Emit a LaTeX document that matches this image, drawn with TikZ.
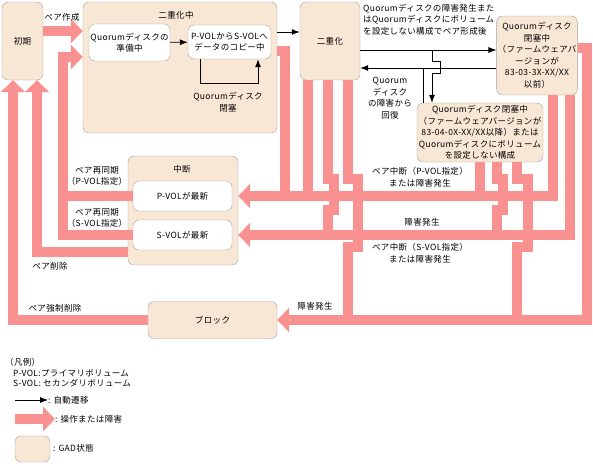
\documentclass[tikz,border=0pt]{standalone}
\usepackage{fontspec}
\setmainfont[LetterSpace=4]{Noto Sans CJK JP}
\usetikzlibrary{arrows.meta}
\definecolor{stbeige}{RGB}{249,231,214}
\definecolor{stedge}{RGB}{165,160,155}
\definecolor{oppink}{RGB}{250,145,145}

\begin{document}
\begin{tikzpicture}[x=1pt, y=-1pt,
  state/.style={rectangle, draw=stedge, rounded corners=6pt, fill=stbeige,
                align=center, inner sep=1pt, font=\fontsize{8.5}{11.5}\selectfont},
  substate/.style={state, fill=white},
  lbl/.style={align=center, inner sep=0pt, font=\fontsize{8.5}{11.5}\selectfont},
  arr/.style={-{Latex[length=8pt,width=6pt]}, line width=0.8pt, black},
  op/.style={draw=oppink, line width=10pt},
  optip/.style={op, -{Triangle[length=12pt,width=24pt]}}
]
\useasboundingbox (0,0) rectangle (593,463);

% states
\node[state, minimum width=41pt, minimum height=78pt] (shoki) at (22.5,41) {初期};
\node[state, minimum width=194pt, minimum height=131pt] (dj) at (180,67.5) {};
\node[lbl] (djt) at (176,15) {二重化中};
\node[substate, minimum width=81pt, minimum height=37pt] (prep) at (129.5,42.5) {Quorumディスクの\\準備中};
\node[substate, minimum width=83pt, minimum height=34pt] (copy) at (229.5,42) {P-VOLからS-VOLへ\\データのコピー中};
\node[state, minimum width=60pt, minimum height=78pt] (nj) at (330,41) {二重化};
\node[state, minimum width=80pt, minimum height=79pt] (q1) at (537,55.5)
  {Quorumディスク\\閉塞中\\（ファームウェアバ\\ージョンが\\83-03-3X-XX/XX\\以前）};
\node[state, minimum width=126pt, minimum height=59pt] (q2) at (480,132.5)
  {Quorumディスク閉塞中\\（ファームウェアバージョンが\\83-04-0X-XX/XX以降）または\\Quorumディスクにボリューム\\を設定しない構成};
\node[state, minimum width=110pt, minimum height=109pt] (chudan) at (183,210.5) {};
\node[lbl] (chudant) at (182,169) {中断};
\node[substate, minimum width=99pt, minimum height=30pt] (pvol) at (182.5,196) {P-VOLが最新};
\node[substate, minimum width=99pt, minimum height=30pt] (svol) at (182.5,235) {S-VOLが最新};
\node[state, minimum width=129pt, minimum height=37pt] (block) at (212.5,320) {ブロック};

% operations / failures
\draw[optip] (shoki.east |- 0,31) -- (dj.west |- 0,31);
\draw[optip] (svol.west) -- (63,235) -- (63,57) -- (dj.west |- 0,57);
\draw[op] (pvol.west) -- (63,196);
\draw[optip] (chudan.west |- 0,252) -- (37,252) -- (shoki.south -| 37,0);
\draw[optip] (block.west) -- (13,320) -- (shoki.south -| 13,0);
\draw[op] (dj.east |- 0,51) -- (285,51) -- (285,196);
\draw[optip] (q1.south -| 553,0) -- (553,196) -- (chudan.east |- pvol);
\draw[optip] (q1.south -| 570,0) -- (570,235) -- (chudan.east |- svol);
\draw[optip] (q1.east |- 0,48) -- (587,48) -- (587,320) -- (block.east);
\draw[op] (nj.south -| 308,0) -- (308,196);
\draw[op] (nj.south -| 328,0) -- (328,179) -- (334,179) -- (334,210) -- (328,210) -- (328,235);
\draw[op] (nj.south -| 348,0) -- (348,179) -- (358,179) -- (358,247) -- (348,247) -- (348,320);
\draw[op] (q2.south -| 480,0) -- (480,196);
\draw[op] (q2.south -| 497,0) -- (497,179) -- (503,179) -- (503,210) -- (497,210) -- (497,235);
\draw[op] (q2.south -| 517,0) -- (517,179) -- (528,179) -- (528,247) -- (517,247) -- (517,320);

% automatic transitions
\draw[arr] (prep) -- (copy);
\draw[arr] (copy.south -| 200,0) -- (200,83) -- (258,83) -- (copy.south -| 258,0);
\draw[arr] (dj.east |- 0,32) -- (nj.west |- 0,32);
\draw[arr] (nj.east |- 0,50) -- (q1.west |- 0,50);
\draw[arr] (q1.west |- 0,68) -- (nj.east |- 0,68);
\draw[line width=0.8pt] (q2.north -| 423,0) -- (423,68);
\draw[arr] (432,50) -- (432,61) -- (440,61) -- (440,73) -- (432,73) -- (q2.north -| 432,0);

% labels
\node[lbl] (lsakusei) at (62,17) {ペア作成};
\node[lbl] (lheisoku) at (228,102) {Quorumディスク\\閉塞};
\node[lbl, align=left, anchor=north west] (lkeisei) at (363,4)
  {Quorumディスクの障害発生また\\はQuorumディスクにボリューム\\を設定しない構成でペア形成後};
\node[lbl] (lkaifuku) at (390,98) {Quorum\\ディスク\\の障害から\\回復};
\node[lbl] (lpsync) at (97,176) {ペア再同期\\（P-VOL指定）};
\node[lbl] (lssync) at (97,218) {ペア再同期\\（S-VOL指定）};
\node[lbl] (lsakujo) at (50,266) {ペア削除};
\node[lbl] (lkyosei) at (55,308) {ペア強制削除};
\node[lbl] (lpchudan) at (420,177) {ペア中断（P-VOL指定）\\または障害発生};
\node[lbl] (lshogai) at (422,222) {障害発生};
\node[lbl] (lschudan) at (420,253) {ペア中断（S-VOL指定）\\または障害発生};
\node[lbl] (lblock) at (315,306) {障害発生};

% legend
\node[lbl, align=left, anchor=west] (hanrei) at (5,362) {（凡例）};
\node[lbl, align=left, anchor=west] (lgp) at (13,373) {P-VOL:プライマリボリューム};
\node[lbl, align=left, anchor=west] (lgs) at (13,383) {S-VOL: セカンダリボリューム};
\coordinate (lga) at (15,400);
\node[lbl, anchor=west] (lgat) at (48,400) {: 自動遷移};
\draw[arr] (lga) -- (lgat.west);
\coordinate (lgo) at (15,419);
\node[lbl, anchor=west] (lgot) at (55,419) {:  操作または障害};
\draw[optip] (lgo) -- (lgot.west);
\node[state, minimum width=35pt, minimum height=26pt] (lgbox) at (32.5,449) {};
\node[lbl, anchor=west] (lgbt) at (53,448) {:  GAD状態};
\end{tikzpicture}
\end{document}
